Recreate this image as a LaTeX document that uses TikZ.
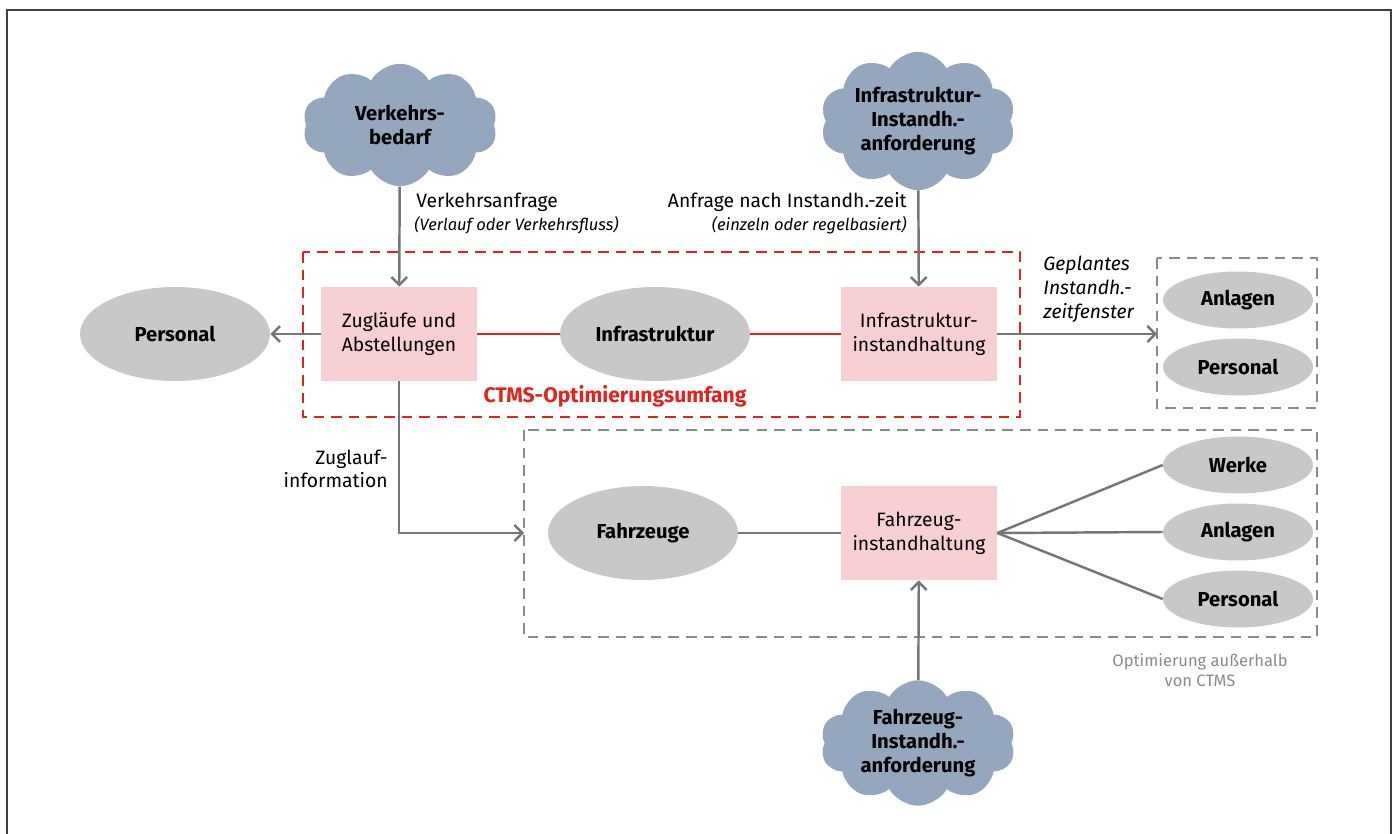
\documentclass[tikz,border=0pt]{standalone}
\usepackage{fontspec}
\setmainfont{Fira Sans}
\usepackage{tikz}
\usetikzlibrary{arrows,arrows.meta,shapes.geometric,shapes.symbols}

\definecolor{cloudblue}{HTML}{95A6BF}
\definecolor{boxpink}{HTML}{F8D0D3}
\definecolor{ellgray}{HTML}{C8C8C8}
\definecolor{ctmsred}{HTML}{E4221B}
\definecolor{linegray}{HTML}{767676}
\definecolor{dashgray}{HTML}{8A8A8A}

\begin{document}
\begin{tikzpicture}[x=0.02cm,y=-0.02cm,>={Straight Barb[length=4.5pt,width=9pt]},font=\fontsize{11}{13.5}\selectfont]
					\tikzstyle{wolke}=[cloud,cloud puffs=10,cloud puff arc=120,aspect=1.6,fill=cloudblue,draw=none,minimum width=3.9cm,minimum height=2.45cm,inner sep=0pt,align=center,font=\fontsize{11.5}{13.6}\selectfont\bfseries]
					\tikzstyle{aufgabe}=[rectangle,fill=boxpink,minimum width=3.12cm,minimum height=1.88cm,align=center,inner sep=2pt]
					\tikzstyle{ressource}=[ellipse,fill=ellgray,minimum width=3.8cm,minimum height=1.88cm,font=\fontsize{11.5}{13.5}\selectfont\bfseries]
					\tikzstyle{klein}=[ellipse,fill=ellgray,minimum width=3cm,minimum height=1.14cm,font=\fontsize{11.5}{13.5}\selectfont\bfseries]
					\tikzstyle{fluss}=[draw=linegray,line width=1.4pt]
					\tikzstyle{rahmen}=[line width=1.4pt,dash pattern=on 6pt off 4pt]
					\useasboundingbox (0,0) rectangle (1395,834);
					\draw[line width=1.3pt,black!75] (7,834) -- (7,10) -- (1391,10) -- (1391,834);
					% Bereiche
					\draw[rahmen,ctmsred] (303,252) rectangle (1020,417);
					\draw[rahmen,dashgray] (1157,258) rectangle (1317,408);
					\draw[rahmen,dashgray] (524,430) rectangle (1317,637);
					% Wolken
					\node[wolke] (vb) at (400,125) {Verkehrs-\\bedarf};
					\node[wolke] (ia) at (918,121) {Infrastruktur-\\Instandh.-\\anforderung};
					\node[wolke] (fa) at (918,743) {Fahrzeug-\\Instandh.-\\anforderung};
					% CTMS
					\node[aufgabe] (zug) at (399,334) {Zugläufe und\\Abstellungen};
					\node[ressource] (infra) at (655,334) {Infrastruktur};
					\node[aufgabe] (iih) at (919,334) {Infrastruktur-\\instandhaltung};
					\node[ressource] (pers) at (175,334) {Personal};
					\node[ctmsred,font=\fontsize{12}{14}\selectfont\bfseries] (ctms) at (615,396) {CTMS-Optimierungsumfang};
					% rechts oben
					\node[klein] (anl1) at (1238,300) {Anlagen};
					\node[klein] (pers1) at (1238,367) {Personal};
					% unten
					\node[ressource] (fz) at (643,533) {Fahrzeuge};
					\node[aufgabe] (fih) at (919,533) {Fahrzeug-\\instandhaltung};
					\node[klein] (werke) at (1238,465) {Werke};
					\node[klein] (anl2) at (1238,532) {Anlagen};
					\node[klein] (pers2) at (1238,599) {Personal};
					\coordinate (zlend) at (524,533);
					\coordinate (gpend) at (1157,334);
					% Verbindungen
					\draw[ctmsred,line width=1.4pt] (zug) -- (infra);
					\draw[ctmsred,line width=1.4pt] (infra) -- (iih);
					\draw[fluss,->] (zug) -- (pers);
					\draw[fluss,->] (vb) -- (zug);
					\draw[fluss,->] (ia) -- (iih);
					\draw[fluss,->] (iih) -- (gpend);
					\draw[fluss,->] (zug) |- (zlend);
					\draw[fluss] (fz) -- (fih);
					\draw[fluss,->] (fa) -- (fih);
					\draw[fluss] (fih.east) -- (werke.west);
					\draw[fluss] (fih.east) -- (anl2.west);
					\draw[fluss] (fih.east) -- (pers2.west);
					% Beschriftungen
					\node[anchor=west,inner sep=0pt] (l1) at (416,202) {Verkehrsanfrage};
					\node[anchor=west,inner sep=0pt,font=\fontsize{9.4}{11}\selectfont\itshape] (l1b) at (414,225) {(Verlauf oder Verkehrsfluss)};
					\node[anchor=east,inner sep=0pt] (l2) at (907,202) {Anfrage nach Instandh.-zeit};
					\node[anchor=east,inner sep=0pt,font=\fontsize{9.4}{11}\selectfont\itshape] (l2b) at (907,225) {(einzeln oder regelbasiert)};
					\node[anchor=north west,inner sep=0pt,align=left,font=\fontsize{11}{13.5}\selectfont\itshape] (l3) at (1043,256) {Geplantes\\Instandh.-\\zeitfenster};
					\node[anchor=east,inner sep=0pt,align=right] (l4) at (388,469) {Zuglauf-\\information};
					\node[dashgray,inner sep=0pt,align=center,font=\fontsize{9.4}{11.5}\selectfont] (l5) at (1200,670) {Optimierung außerhalb\\von CTMS};
					\end{tikzpicture}
\end{document}
